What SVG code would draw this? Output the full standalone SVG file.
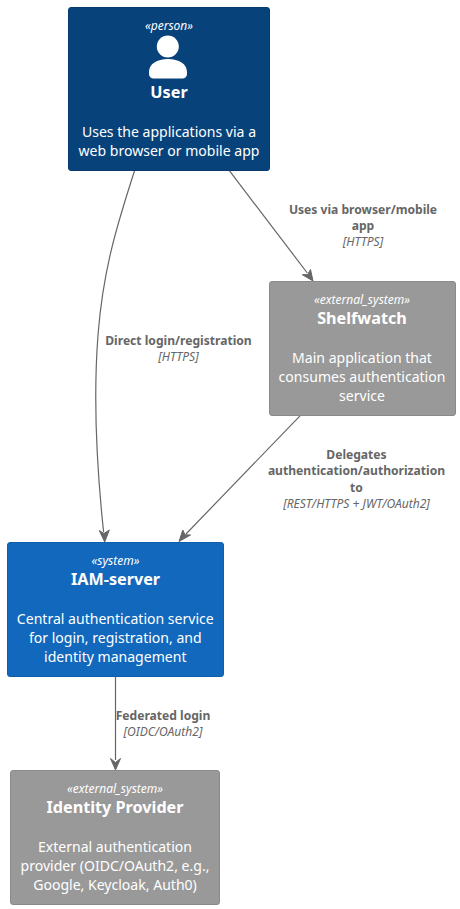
<svg xmlns="http://www.w3.org/2000/svg" width="460" height="909" viewBox="0 0 460 909">
<style>
text{font-family:"Noto Sans","Open Sans",sans-serif;text-anchor:middle}
.st{font-size:12px;font-style:italic;fill:#fff}
.ti{font-size:16.2px;font-weight:700;fill:#fff}
.de{font-size:14.05px;fill:#fff}
.lb{font-size:12.1px;font-weight:700;fill:#666}
.te{font-size:12.05px;font-style:italic;fill:#666}
.c{fill:none;stroke:#666;stroke-width:1.2}
.ah{fill:#666;stroke:#666}
</style>
<rect width="460" height="909" fill="#fff"/>
<g id="connectors">
<path class="c" d="M134.7,170.2 C117,225 103,270 98,335 C93,400 97,470 103.6,532"/>
<polygon class="ah" points="104.700,542 99.300,530.500 104,533.500 109.300,530"/>
<path class="c" d="M229,170.2 L307.3,273"/>
<polygon class="ah" points="313,281 302.300,274.700 307.700,274.600 310.500,269.500"/>
<path class="c" d="M300,415.8 L186,534"/>
<polygon class="ah" points="179,541.500 182.800,530 185,534.800 190.500,535"/>
<path class="c" d="M115.500,677 L115.500,760"/>
<polygon class="ah" points="115.500,770 110.500,758.500 115.500,762.500 120.500,758.500"/>
</g>
<g id="user">
<rect x="68.500" y="7.500" width="201" height="163" rx="2.500" fill="#08427b" stroke="#073b6f"/>
<text class="st" x="169" y="30">«person»</text>
<circle cx="167.800" cy="46.500" r="11" fill="#fff"/>
<path d="M149,78.500 V72 C149,64 157,59 168,59 C179,59 187,64 187,72 V74 A4.500,4.500 0 0 1 182.500,78.500 H153.500 A4.500,4.500 0 0 1 149,74 Z" fill="#fff"/>
<text class="ti" x="169" y="98">User</text>
<text class="de" x="169" y="137">Uses the applications via a</text>
<text class="de" x="169" y="156">web browser or mobile app</text>
</g>
<g id="shelfwatch">
<rect x="269.500" y="281.500" width="186" height="134" rx="2.500" fill="#999" stroke="#8a8a8a"/>
<text class="st" x="362" y="304">«external_system»</text>
<text class="ti" x="362" y="324">Shelfwatch</text>
<text class="de" x="362" y="363">Main application that</text>
<text class="de" x="362" y="382">consumes authentication</text>
<text class="de" x="362" y="401">service</text>
</g>
<g id="iam-server">
<rect x="7.500" y="542.500" width="216" height="134" rx="2.500" fill="#1168bd" stroke="#0f5eaa"/>
<text class="st" x="115.500" y="565">«system»</text>
<text class="ti" x="115.500" y="585">IAM-server</text>
<text class="de" x="115.300" y="624">Central authentication service</text>
<text class="de" x="115.300" y="643">for login, registration, and</text>
<text class="de" x="115.300" y="662">identity management</text>
</g>
<g id="identity-provider">
<rect x="10.500" y="770.500" width="209" height="134" rx="2.500" fill="#999" stroke="#8a8a8a"/>
<text class="st" x="115" y="793">«external_system»</text>
<text class="ti" x="115" y="813">Identity Provider</text>
<text class="de" x="115" y="852">External authentication</text>
<text class="de" x="115" y="871">provider (OIDC/OAuth2, e.g.,</text>
<text class="de" x="115" y="890">Google, Keycloak, Auth0)</text>
</g>
<g id="labels">
<text class="lb" x="363" y="214">Uses via browser/mobile</text>
<text class="lb" x="363" y="230">app</text>
<text class="te" x="363" y="246">[HTTPS]</text>
<text class="lb" x="178.500" y="345">Direct login/registration</text>
<text class="te" x="178.500" y="361">[HTTPS]</text>
<text class="lb" x="356.500" y="459">Delegates</text>
<text class="lb" x="356.500" y="475">authentication/authorization</text>
<text class="lb" x="356.500" y="492">to</text>
<text class="te" x="356.500" y="508">[REST/HTTPS + JWT/OAuth2]</text>
<text class="lb" x="163" y="720">Federated login</text>
<text class="te" x="163" y="736">[OIDC/OAuth2]</text>
</g>
</svg>
